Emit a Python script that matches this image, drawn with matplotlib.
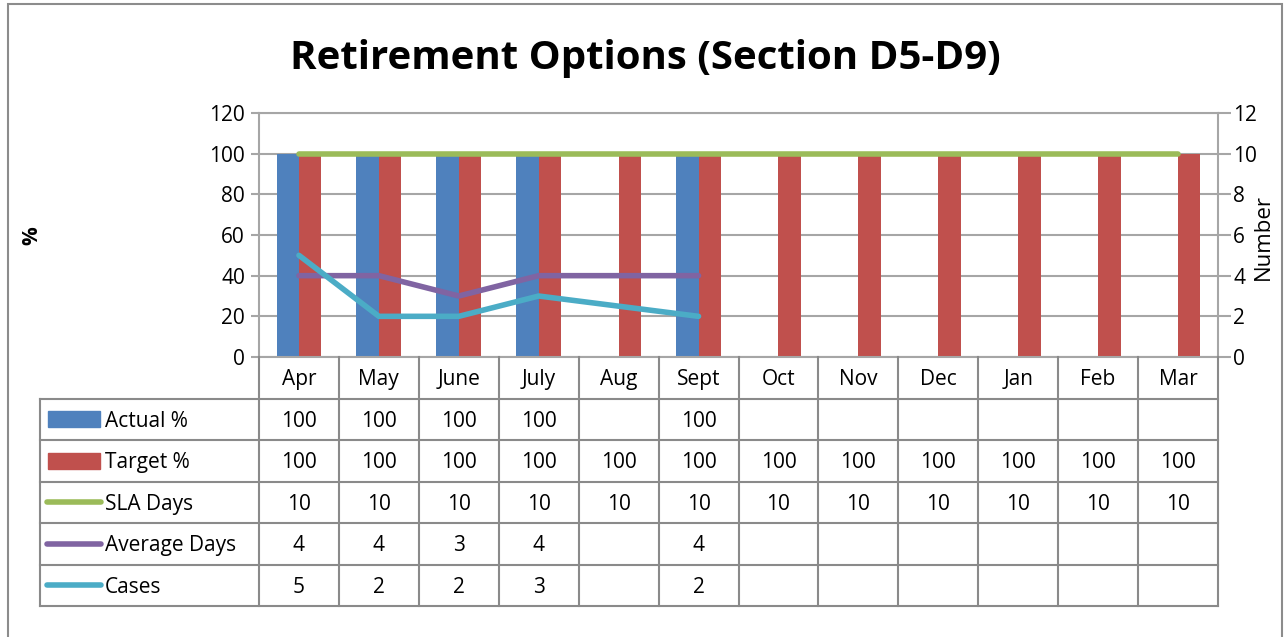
import matplotlib
matplotlib.use("Agg")
import matplotlib.pyplot as plt
import numpy as np
from matplotlib.patches import Rectangle

plt.rcParams['font.family'] = ['Open Sans', 'DejaVu Sans']

months = ["Apr", "May", "June", "July", "Aug", "Sept", "Oct", "Nov", "Dec", "Jan", "Feb", "Mar"]
actual = [100, 100, 100, 100, None, 100, None, None, None, None, None, None]
target = [100] * 12
sla_days = [10] * 12
avg_days = [4, 4, 3, 4, 4, 4, None, None, None, None, None, None]
avg_days_table = [4, 4, 3, 4, None, 4, None, None, None, None, None, None]
cases = [5, 2, 2, 3, 2.5, 2, None, None, None, None, None, None]
cases_table = [5, 2, 2, 3, None, 2, None, None, None, None, None, None]
title = "Retirement Options (Section D5-D9)"

C_BLUE = "#4F81BD"
C_RED = "#C0504D"
C_GREEN = "#9BBB59"
C_PURPLE = "#8064A2"
C_CYAN = "#4BACC6"
GRID = "#a6a6a6"
TAB = "#8a8a8a"

W, H = 1284, 637
fig = plt.figure(figsize=(W / 100, H / 100), dpi=100)

def rect(x0, y0, x1, y1):
    return [x0 / W, 1 - y1 / H, (x1 - x0) / W, (y1 - y0) / H]

# outer border
fig.patches.append(Rectangle((8 / W, -0.05), (1282 - 8) / W, (H - 4) / H + 0.05,
                             transform=fig.transFigure, fill=False, edgecolor="#8c8c8c", lw=1.5))

PL, PR, PT, PB = 259, 1218, 113, 357
ax = fig.add_axes(rect(PL, PT, PR, PB))
n = len(months)
x = np.arange(n)
ax.set_xlim(-0.5, n - 0.5)
ax.set_ylim(0, 120)
ax.set_yticks(range(0, 121, 20))
ax.yaxis.grid(True, color=GRID, lw=1.5)
ax.set_axisbelow(True)
for s in ax.spines.values():
    s.set_color(GRID)
    s.set_linewidth(1.5)
ax.tick_params(axis='y', length=6, color=GRID, width=1.5, labelsize=15, pad=4)
ax.tick_params(axis='x', length=0, labelbottom=False)

bw = 0.28
av = [np.nan if v is None else v for v in actual]
ax.bar(x - bw / 2, av, bw, color=C_BLUE, zorder=2)
ax.bar(x + bw / 2, target, bw, color=C_RED, zorder=2)

ax2 = ax.twinx()
ax2.set_ylim(0, 12)
ax2.set_yticks(range(0, 13, 2))
for s in ax2.spines.values():
    s.set_visible(False)
ax2.tick_params(axis='y', length=9, color=GRID, width=1.5, labelsize=15, pad=2)
def arr(v):
    return np.array([np.nan if a is None else a for a in v], dtype=float)
ax2.plot(x, arr(sla_days), color=C_GREEN, lw=4, solid_capstyle='round', zorder=3)
ax2.plot(x, arr(avg_days), color=C_PURPLE, lw=4, solid_capstyle='round', zorder=3)
ax2.plot(x, arr(cases), color=C_CYAN, lw=4, solid_capstyle='round', zorder=3)

fig.text(32 / W, 1 - 236 / H, "%", fontsize=15, fontweight="bold", rotation=90,
         ha="center", va="center")
fig.text(1263 / W, 1 - 237 / H, "Number", fontsize=16, rotation=90,
         ha="center", va="center")

fig.text(645 / W, 1 - 59 / H, title, fontsize=29, fontweight="bold", ha="center", va="center")

# data table
TL, TB = 40, 606
cw = (PR - PL) / n
left_units = -0.5 - (PL - TL) / cw
tab = fig.add_axes(rect(TL, PB, PR, TB))
tab.set_xlim(left_units, n - 0.5)
tab.set_ylim(6, 0)
tab.axis("off")

lkw = dict(color=TAB, lw=1.5, clip_on=False)
for i in range(n + 1):
    tab.plot([i - 0.5, i - 0.5], [0, 6], **lkw)
tab.plot([left_units, left_units], [1, 6], **lkw)
for r in range(1, 7):
    tab.plot([left_units, n - 0.5], [r, r], **lkw)

for i, m in enumerate(months):
    tab.text(i, 0.55, m, ha="center", va="center", fontsize=15)

rows = [("Actual %", actual, "bar", C_BLUE),
        ("Target %", target, "bar", C_RED),
        ("SLA Days", sla_days, "line", C_GREEN),
        ("Average Days", avg_days_table, "line", C_PURPLE),
        ("Cases", cases_table, "line", C_CYAN)]
unit = cw
for r, (name, vals, kind, col) in enumerate(rows):
    yc = r + 1.5
    x0 = left_units + (48 - TL) / unit
    x1 = left_units + (100 - TL) / unit
    if kind == "bar":
        tab.add_patch(Rectangle((x0, yc - 0.19), x1 - x0, 0.38, color=col, clip_on=False))
    else:
        tab.plot([left_units + (47 - TL) / unit, left_units + (101 - TL) / unit], [yc, yc],
                 color=col, lw=4, solid_capstyle='round', clip_on=False)
    tab.text(left_units + (105 - TL) / unit, yc + 0.05, name, ha="left", va="center", fontsize=15)
    for i, v in enumerate(vals):
        if v is not None:
            tab.text(i, yc + 0.05, f"{v:g}", ha="center", va="center", fontsize=15)

fig.savefig("out.png", dpi=100)
